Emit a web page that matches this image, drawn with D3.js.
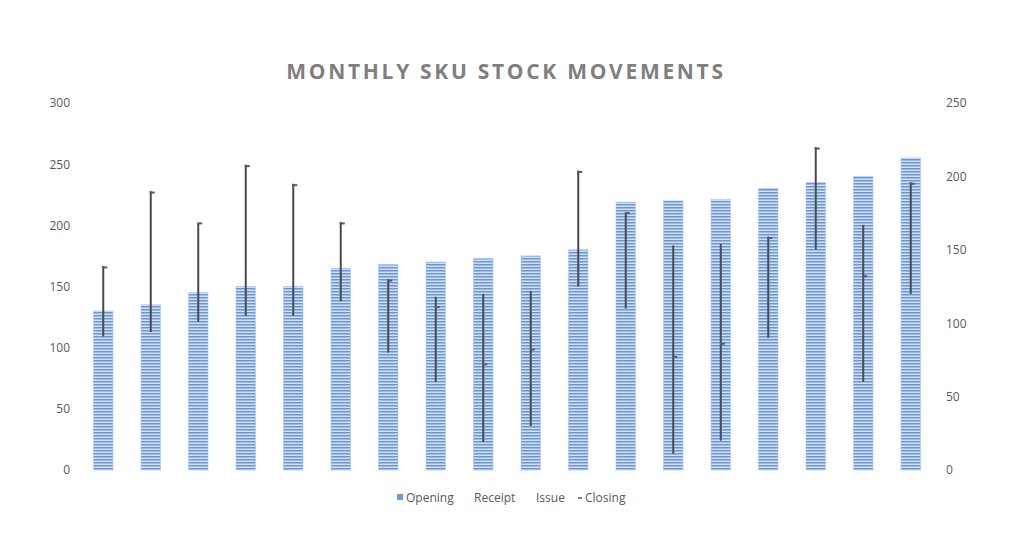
<!DOCTYPE html>
<html><head><meta charset="utf-8">
<script src="https://cdn.jsdelivr.net/npm/d3@7"></script>
<style>
body{margin:0;background:#fff;}
svg{display:block;}
text{font-family:"Open Sans","Liberation Sans",sans-serif;}
</style></head>
<body>
<script>
const periods = ["P1","P2","P3","P4","P5","P6","P7","P8","P9","P10","P11","P12","P13","P14","P15","P16","P17","P18"];
const opening = [130,135,145,150,150,165,168,170,173,175,180,219,220,221,230,235,240,255];
const receipt = [139,190,168,208,195,169,130,118,120,122,204,175,153,154,159,220,167,196];
const issue   = [91,94,101,105,105,115,80,60,19,30,125,110,11,20,90,150,60,120];
const closing = [138,189,168,207,194,168,129,111,72,82,203,175,77,86,158,219,132,195];
const leftTicks = [0,50,100,150,200,250,300];
const rightTicks = [0,50,100,150,200,250];

(function(){
const W=1024,H=555;
const svg=d3.select("body").append("svg").attr("width",W).attr("height",H);
const defs=svg.append("defs");
const pat=defs.append("pattern").attr("id","hstripe").attr("patternUnits","userSpaceOnUse")
  .attr("width",8).attr("height",3);
pat.append("rect").attr("width",8).attr("height",3).attr("fill","#d2e0f5");
pat.append("rect").attr("y",0).attr("width",8).attr("height",1.5).attr("fill","#6a96d9");

const pL=79.5,pR=934.5,pT=103,pB=470;
const x=d3.scaleBand().domain(periods).range([pL,pR]).paddingInner(0.59).paddingOuter(0.295);
const yL=d3.scaleLinear().domain([0,300]).range([pB,pT]);
const yR=d3.scaleLinear().domain([0,250]).range([pB,pT]);

svg.append("text").attr("x",506).attr("y",79).attr("text-anchor","middle")
  .attr("font-size",21).attr("font-weight","bold").attr("fill","#7f7f7f")
  .attr("letter-spacing","2.7px").text("MONTHLY SKU STOCK MOVEMENTS");

const la=svg.append("g").attr("transform",`translate(70,0)`)
  .call(d3.axisLeft(yL).tickValues(leftTicks).tickSize(0).tickPadding(0));
la.select(".domain").remove();
la.selectAll("text").attr("font-size",12).attr("fill","#595959").attr("font-family","'Open Sans',sans-serif");

const ra=svg.append("g").attr("transform",`translate(946,0)`)
  .call(d3.axisRight(yR).tickValues(rightTicks).tickSize(0).tickPadding(0));
ra.select(".domain").remove();
ra.selectAll("text").attr("font-size",12).attr("fill","#595959").attr("font-family","'Open Sans',sans-serif");

svg.append("g").selectAll("rect").data(periods).join("rect")
  .attr("x",d=>x(d)).attr("width",x.bandwidth())
  .attr("y",(d,i)=>yL(opening[i])).attr("height",(d,i)=>pB-yL(opening[i]))
  .attr("fill","url(#hstripe)").attr("stroke","#a9c4ec").attr("stroke-width",0.6);

const cx=d=>x(d)+x.bandwidth()/2;
svg.append("g").selectAll("line").data(periods).join("line")
  .attr("x1",cx).attr("x2",cx)
  .attr("y1",(d,i)=>yR(receipt[i])).attr("y2",(d,i)=>yR(issue[i]))
  .attr("stroke","#4a4a4a").attr("stroke-width",2);
svg.append("g").selectAll("line").data(periods).join("line")
  .attr("x1",d=>cx(d)-1).attr("x2",d=>cx(d)+4)
  .attr("y1",(d,i)=>yR(closing[i])).attr("y2",(d,i)=>yR(closing[i]))
  .attr("stroke","#555a70").attr("stroke-width",2);

const lg=svg.append("g").attr("font-size",12).attr("fill","#595959");
lg.append("rect").attr("x",397).attr("y",494).attr("width",6).attr("height",6).attr("fill","#6d98da");
lg.append("text").attr("x",406).attr("y",502).text("Opening");
lg.append("text").attr("x",474).attr("y",502).text("Receipt");
lg.append("text").attr("x",536).attr("y",502).text("Issue");
lg.append("line").attr("x1",578).attr("x2",582).attr("y1",498).attr("y2",498).attr("stroke","#595959").attr("stroke-width",1.5);
lg.append("text").attr("x",585).attr("y",502).text("Closing");
})();
</script>
</body></html>
